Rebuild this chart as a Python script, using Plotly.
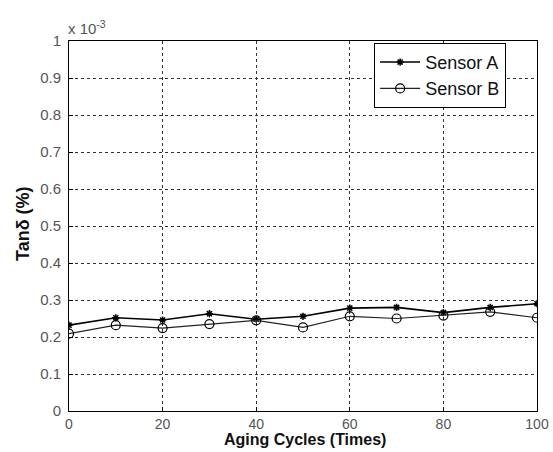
import plotly.graph_objects as go

cycles = [0, 10, 20, 30, 40, 50, 60, 70, 80, 90, 100]
sensor_a = [0.232, 0.252, 0.246, 0.263, 0.248, 0.256, 0.278, 0.280, 0.266, 0.280, 0.290]
sensor_b = [0.209, 0.232, 0.224, 0.235, 0.245, 0.226, 0.256, 0.250, 0.258, 0.268, 0.252]
x_ticks = [0, 20, 40, 60, 80, 100]
y_ticks = [0, 0.1, 0.2, 0.3, 0.4, 0.5, 0.6, 0.7, 0.8, 0.9, 1]
y_tick_labels = ["0", "0.1", "0.2", "0.3", "0.4", "0.5", "0.6", "0.7", "0.8", "0.9", "1"]
x_title = "Aging Cycles (Times)"
y_title = "Tanδ (%)"

fig = go.Figure()
fig.add_trace(go.Scatter(
    x=cycles, y=sensor_a, name="Sensor A", mode="lines+markers",
    line=dict(color="black", width=1.6),
    marker=dict(symbol="asterisk-open", size=6, color="black", line=dict(width=1.5, color="black")),
))
fig.add_trace(go.Scatter(
    x=cycles, y=sensor_b, name="Sensor B", mode="lines+markers",
    line=dict(color="#222222", width=1.2),
    marker=dict(symbol="circle-open", size=9, color="black", line=dict(width=1.2, color="black")),
))

axis_common = dict(
    showline=True, linecolor="black", linewidth=1, mirror=True,
    showgrid=True, gridcolor="#333333", griddash="3px,3px", gridwidth=0.8,
    ticks="inside", ticklen=4, tickcolor="black",
    zeroline=False, automargin=False,
)

fig.update_layout(
    width=553, height=452,
    margin=dict(l=69, r=16, t=41, b=41),
    paper_bgcolor="white", plot_bgcolor="white",
    font=dict(family="Liberation Sans, Arial", color="black"),
    xaxis=dict(range=[0, 100], tickvals=x_ticks, ticklabelstandoff=0,
               tickfont=dict(family="Liberation Sans, Arial", size=14, color="#555555"),
               **axis_common),
    yaxis=dict(range=[0, 1], tickvals=y_ticks, ticktext=y_tick_labels,
               ticklabelstandoff=4,
               tickfont=dict(family="Liberation Sans, Arial", size=15, color="#555555"),
               **axis_common),
    legend=dict(
        x=0.652, y=0.995, xanchor="left", yanchor="top",
        bgcolor="white", bordercolor="black", borderwidth=1,
        font=dict(size=18, color="#111111"),
        tracegroupgap=0, itemwidth=40,
    ),
    showlegend=True,
)

# axis titles
fig.add_annotation(
    xref="paper", yref="paper", x=0.5, y=0, xanchor="center", yanchor="top",
    text="<b>" + x_title + "</b>", showarrow=False, yshift=-19, xshift=2, borderpad=0,
    font=dict(family="Liberation Sans, Arial", size=16, color="#111111"),
)
fig.add_annotation(
    xref="paper", yref="paper", x=0, y=0.5, xanchor="center", yanchor="middle",
    text="<b>" + y_title + "</b>", showarrow=False, textangle=-90, xshift=-46, yshift=2,
    font=dict(family="Liberation Sans, Arial", size=18, color="#111111"),
)
# exponent label
fig.add_annotation(
    xref="paper", yref="paper", x=0.0, y=1.0, xanchor="left", yanchor="bottom",
    text="x 10<sup>-3</sup>", showarrow=False,
    font=dict(family="Liberation Sans, Arial", size=15, color="#555555"), xshift=-3, yshift=2,
)

fig.write_html("out.html")
